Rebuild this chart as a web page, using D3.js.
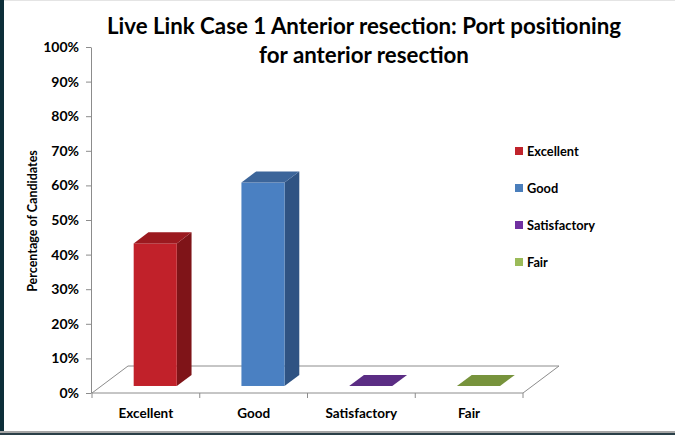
<!DOCTYPE html>
<html>
<head>
<meta charset="utf-8">
<script src="https://cdn.jsdelivr.net/npm/d3@7"></script>
<style>
  html, body { margin: 0; padding: 0; background: #fff; }
  svg { display: block; }
  text { font-family: Lato, "Open Sans", sans-serif; font-weight: bold; fill: #000; }
</style>
</head>
<body>
<div id="chart"></div>
<script>
const categories = ["Excellent", "Good", "Satisfactory", "Fair"];
const values = [41.2, 58.8, 0, 0];
const yTicks = [0, 10, 20, 30, 40, 50, 60, 70, 80, 90, 100];
const titleLines = ["Live Link Case 1 Anterior resection: Port positioning", "for anterior resection"];
const frontColors = ["#c1212a", "#4a80c2", "#5b2d84", "#77933c"];
const topColors = ["#9b191f", "#3c659a", "#5b2d84", "#77933c"];
const sideColors = ["#7f1418", "#2f5383", "#4a2470", "#627a31"];
const legendColors = ["#c0232b", "#4a7ebb", "#7030a0", "#9bbb59"];

const width = 675, height = 435;
const svg = d3.select("#chart").append("svg")
  .attr("width", width).attr("height", height);

// frame
svg.append("rect").attr("x", 0).attr("y", 0).attr("width", width).attr("height", height).attr("fill", "#fff");
svg.append("rect").attr("x", 0).attr("y", 0).attr("width", 4).attr("height", height).attr("fill", "#0d2e39");
svg.append("rect").attr("x", 0).attr("y", 431).attr("width", width).attr("height", 2).attr("fill", "#a6a6a6");
svg.append("rect").attr("x", 0).attr("y", 433).attr("width", width).attr("height", 2).attr("fill", "#2a3f48");
svg.append("line").attr("x1", 4).attr("x2", width).attr("y1", 0.5).attr("y2", 0.5).attr("stroke", "#e4e4e4");

// 3d geometry
const depthX = 36, depthY = 27;
const zFront = 0.26, zBack = 0.67;
const x = d3.scaleBand().domain(categories).range([92, 523]).paddingInner(0.6).paddingOuter(0.3);
const y = d3.scaleLinear().domain([0, 100]).range([393, 47]);
const x0 = 92, x1 = 523;

// floor
const floor = [[x0, y(0)], [x0 + depthX, y(0) - depthY], [x1 + depthX, y(0) - depthY], [x1, y(0)]];
svg.append("polygon")
  .attr("points", floor.map(p => p.join(",")).join(" "))
  .attr("fill", "#fff").attr("stroke", "#8c8c8c").attr("stroke-width", 1);

// bars
const bars = svg.append("g");
categories.forEach((c, i) => {
  const fx = x(c) + zFront * depthX;
  const fw = x.bandwidth();
  const base = y(0) - zFront * depthY;
  const top = base - (y(0) - y(values[i]));
  const dx = (zBack - zFront) * depthX, dy = (zBack - zFront) * depthY;
  const pts = a => a.map(p => p.join(",")).join(" ");
  if (values[i] > 0) {
    bars.append("polygon").attr("fill", sideColors[i])
      .attr("points", pts([[fx + fw, base], [fx + fw + dx, base - dy], [fx + fw + dx, top - dy], [fx + fw, top]]));
    bars.append("rect").attr("fill", frontColors[i])
      .attr("x", fx).attr("y", top).attr("width", fw).attr("height", base - top);
  }
  bars.append("polygon").attr("fill", topColors[i])
    .attr("points", pts([[fx, top], [fx + dx, top - dy], [fx + fw + dx, top - dy], [fx + fw, top]]));
});

// value axis
const yAxis = svg.append("g").attr("transform", "translate(91,0)")
  .call(d3.axisLeft(y).tickValues(yTicks).tickFormat(d => d + "%").tickSize(5).tickSizeOuter(0));
yAxis.select(".domain").attr("stroke", "#8c8c8c");
yAxis.selectAll(".tick line").attr("stroke", "#8c8c8c");
yAxis.selectAll(".tick text").attr("x", -12).style("font-size", "14px").style("font-family", "Lato, sans-serif").style("font-weight", "bold");

// category axis ticks
const catTicks = d3.range(categories.length + 1).map(i => x0 + i * x.step());
svg.append("g").selectAll("line").data(catTicks).join("line")
  .attr("x1", d => d).attr("x2", d => d).attr("y1", y(0)).attr("y2", y(0) + 5)
  .attr("stroke", "#8c8c8c");
svg.append("g").selectAll("text").data(categories).join("text")
  .attr("x", d => x(d) + x.bandwidth() / 2)
  .attr("y", 418)
  .attr("text-anchor", "middle")
  .style("font-size", "13.5px")
  .text(d => d);

// axis title
svg.append("text")
  .attr("transform", "translate(37,221) rotate(-90)")
  .attr("text-anchor", "middle")
  .style("font-size", "12.5px")
  .text("Percentage of Candidates");

// title
svg.append("g").selectAll("text").data(titleLines).join("text")
  .attr("x", 364)
  .attr("y", (d, i) => 34 + i * 29)
  .attr("text-anchor", "middle")
  .style("font-size", "22.3px")
  .text(d => d);

// legend
const legend = svg.append("g").selectAll("g").data(categories).join("g")
  .attr("transform", (d, i) => `translate(515,${147 + i * 37})`);
legend.append("rect").attr("width", 8).attr("height", 8).attr("fill", (d, i) => legendColors[i]);
legend.append("text").attr("x", 12).attr("y", 8.5).style("font-size", "12.8px").text(d => d);
</script>
</body>
</html>
